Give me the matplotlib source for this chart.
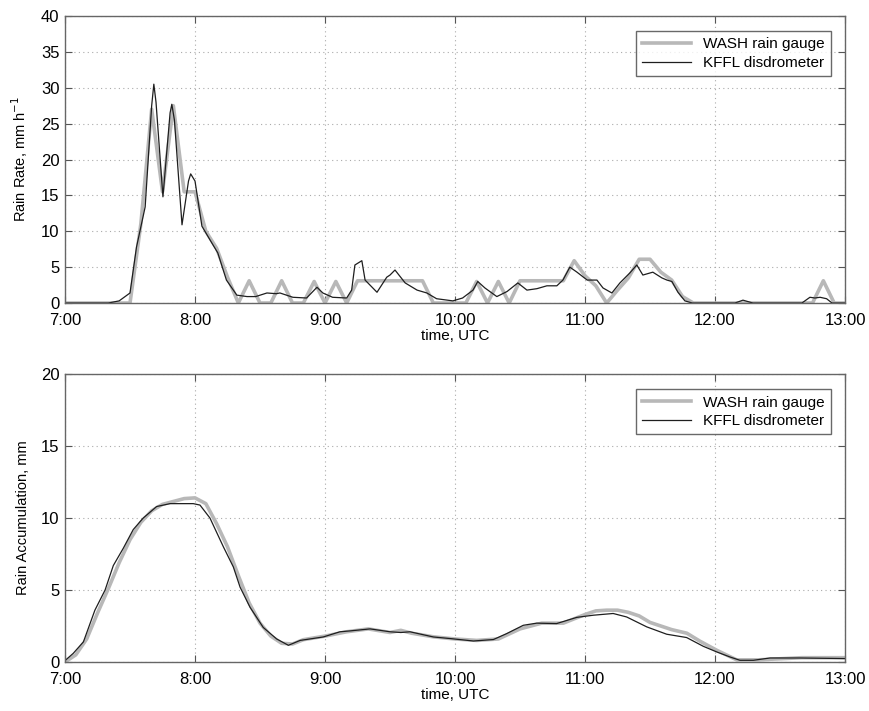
import matplotlib
matplotlib.use("Agg")
import matplotlib.pyplot as plt
import numpy as np

plt.rcParams['font.family'] = ['Liberation Sans', 'DejaVu Sans']

# minutes after 7:00 UTC
gauge_rate_t = list(range(0, 365, 5))
gauge_rate = [0, 0, 0, 0, 0, 0, 0, 11, 27, 15.5, 27.5, 15.5, 15.5, 10, 7.6, 3.6,
              0, 3.1, 0, 0, 3.1, 0, 0, 3.0, 0, 3.0, 0, 3.1, 3.1, 3.1, 3.1, 3.1,
              3.1, 3.1, 0, 0, 0, 0, 3.0, 0, 3.0, 0, 3.1, 3.1, 3.1, 3.1, 3.1,
              5.9, 3.8, 2.4, 0, 1.8, 3.5, 6.1, 6.1, 4.3, 3.2, 0.9, 0, 0, 0, 0,
              0, 0, 0, 0, 0, 0, 0, 0, 3.1, 0, 0]

disdro_rate_t = [0, 20, 25, 30, 33, 37, 40, 41, 42, 45.2, 48.5, 49.3, 50.5, 54,
                 57, 58, 60, 63.2, 68.3,
                 70.5, 74.5, 79.3, 84, 88, 93.2, 97.5, 99.2, 105.2, 111.5,
                 116.3, 119, 123.5, 130, 132.3, 133.8, 137, 138.5, 144, 148.5,
                 150, 152.3, 157, 162.5, 167, 171.5, 179, 183.5, 188.3, 190.5,
                 193.8, 199.3, 204, 209, 213.2, 217.8, 222.4, 227, 229.8, 233,
                 236.3, 241, 245.5, 248.3, 252.4, 256.1, 260.7, 263.9, 266.7,
                 271.3, 275.5, 277.8, 280.1, 282.9, 286.1, 289.5, 309.2, 312.9,
                 317.5, 340.1, 343.8, 346.1, 348.5, 351.5, 354, 360]
disdro_rate = [0, 0, 0.3, 1.4, 7.8, 13.4, 27.5, 30.5, 28, 14.8, 26.5, 27.7,
               25.5, 10.9, 17.0, 18.0, 17.0,
               10.7, 8.1, 7.0, 3.2, 1.1, 0.9, 0.9, 1.4, 1.3, 1.4, 0.8, 0.7, 2.2,
               1.4, 0.8, 0.7, 1.8, 5.3, 5.9, 3.2, 1.5, 3.6, 3.9, 4.6, 2.8, 1.8,
               1.4, 0.6, 0.3, 0.7, 1.8, 3.0, 2.1, 0.9, 1.6, 2.8, 1.8, 2.0, 2.4,
               2.4, 3.2, 5.0, 4.3, 3.2, 3.2, 2.1, 1.4, 2.8, 4.2, 5.3, 3.9, 4.3,
               3.5, 3.2, 3.0, 1.5, 0.3, 0, 0, 0.4, 0, 0, 0.8, 0.7, 0.8, 0.6, 0, 0]

disdro_acc_t = [0, 3.8, 8.5, 13.8, 18.5, 22.3, 26.9, 31.5, 36.1, 42.3, 48.5,
                59.2, 62.3, 66.9, 73.1, 77.7, 80.8, 85.4, 91.5, 97.7, 103.1,
                108.5, 119.2, 126.9, 131.5, 140.8, 150, 155, 159.2, 170, 177.7,
                188.5, 197.7, 203.8, 211.5, 217.7, 226.9, 236.2, 243.8, 253,
                259.2, 268.5, 277.7, 286.9, 294.6, 300.8, 306.9, 311.5, 317.7,
                325.4, 339.2, 360]
disdro_acc = [0.1, 0.6, 1.4, 3.6, 5.0, 6.7, 7.9, 9.2, 10.0, 10.8, 11.0, 11.0,
              10.9, 10.0, 8.0, 6.6, 5.2, 3.8, 2.4, 1.6, 1.16, 1.5, 1.74, 2.1,
              2.16, 2.3, 2.1, 2.05, 2.1, 1.74, 1.63, 1.46, 1.56, 1.97, 2.55,
              2.7, 2.67, 3.1, 3.25, 3.37, 3.13, 2.44, 1.93, 1.7, 1.09, 0.7,
              0.35, 0.12, 0.12, 0.28, 0.28, 0.24]

gauge_acc_t = [0, 5, 10, 15, 20, 25, 30, 35, 40, 45, 50, 55, 60, 65, 70, 75,
               80, 85, 90, 95, 100, 105, 110, 120, 130, 140, 150, 155, 160, 170,
               180, 190, 200, 210, 220, 230, 240, 245, 250, 255, 260, 265, 270,
               280, 287, 293, 301, 310, 320, 340, 360]
gauge_acc = [0, 0.5, 1.6, 3.4, 5.1, 6.9, 8.5, 9.7, 10.5, 10.95, 11.15, 11.35,
             11.4, 11.0, 9.6, 8.0, 6.0, 4.1, 2.7, 1.8, 1.3, 1.25, 1.55, 1.8,
             2.1, 2.3, 2.05, 2.2, 2.0, 1.75, 1.6, 1.5, 1.6, 2.3, 2.7, 2.7,
             3.3, 3.55, 3.6, 3.6, 3.45, 3.2, 2.75, 2.25, 2.0, 1.45, 0.8, 0.15,
             0.15, 0.3, 0.3]

hour_ticks = [7, 8, 9, 10, 11, 12, 13]
hour_labels = ['7:00', '8:00', '9:00', '10:00', '11:00', '12:00', '13:00']
labels = ['WASH rain gauge', 'KFFL disdrometer']


def hrs(t):
    return 7 + np.array(t) / 60.0


def style(ax, ymax, ylabel):
    ax.set_xlim(7, 13)
    ax.set_ylim(0, ymax)
    ax.set_xticks(hour_ticks)
    ax.set_xticklabels(hour_labels)
    ax.set_yticks(np.arange(0, ymax + 1, 5))
    ax.tick_params(direction='in', length=5, width=0.8, top=True, right=True,
                   labelsize=12, color='#555555')
    ax.tick_params(axis='x', pad=7)
    ax.tick_params(axis='y', pad=4)
    for s in ax.spines.values():
        s.set_color('#666666')
        s.set_linewidth(1.0)
    ax.grid(True, color='#aaaaaa', linestyle=(0, (1, 3)), linewidth=0.8)
    ax.set_xlabel('time, UTC', fontsize=11, labelpad=1)
    ax.set_ylabel(ylabel, fontsize=10.5, labelpad=8)
    ax.legend(loc='upper right', fontsize=11, frameon=True, fancybox=False,
              edgecolor='#444444', handlelength=3.2, borderpad=0.4,
              labelspacing=0.3, bbox_to_anchor=(0.992, 0.973))


fig = plt.figure(figsize=(8.69, 7.11), dpi=100)
ax1 = fig.add_axes([0.0748, 0.5738, 0.8976, 0.4037])
ax2 = fig.add_axes([0.0748, 0.0689, 0.8976, 0.405])

ax1.plot(hrs(gauge_rate_t), gauge_rate, color='#b8b8b8', lw=2.6, label=labels[0])
ax1.plot(hrs(disdro_rate_t), disdro_rate, color='#1e1e1e', lw=0.9, label=labels[1])
style(ax1, 40, 'Rain Rate, mm h$^{-1}$')

ax2.plot(hrs(gauge_acc_t), gauge_acc, color='#b8b8b8', lw=2.6, label=labels[0])
ax2.plot(hrs(disdro_acc_t), disdro_acc, color='#1e1e1e', lw=0.9, label=labels[1])
style(ax2, 20, 'Rain Accumulation, mm')

fig.savefig('out.png', dpi=100)
